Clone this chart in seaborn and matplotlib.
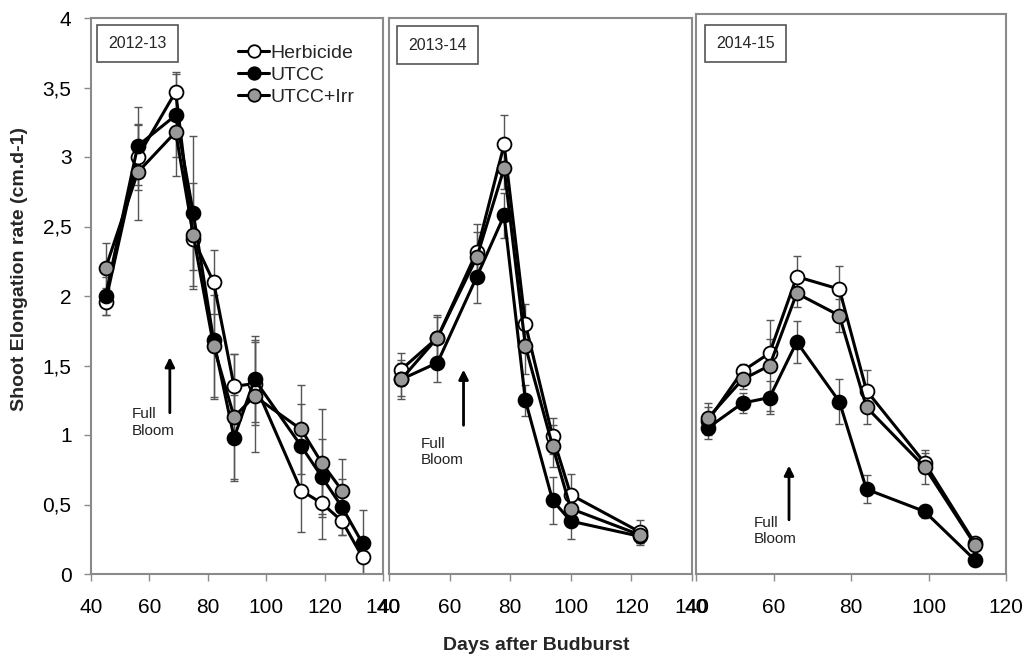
import numpy as np
import matplotlib
matplotlib.use("Agg")
import matplotlib.pyplot as plt
import seaborn as sns

nan = np.nan

# ---------------- data ----------------
seasons = ["2012-13", "2013-14", "2014-15"]
series_names = ["Herbicide", "UTCC", "UTCC+Irr"]

days_1 = [45, 56, 69, 75, 82, 89, 96, 112, 119, 126, 133]
herb_1 = [1.96, 3.00, 3.47, 2.41, 2.10, 1.35, 1.37, 0.60, 0.51, 0.38, 0.12]
utcc_1 = [2.00, 3.08, 3.30, 2.60, 1.68, 0.98, 1.40, 0.92, 0.70, 0.48, 0.22]
irr_1 = [2.20, 2.89, 3.18, 2.44, 1.64, 1.13, 1.28, 1.04, 0.80, 0.60, nan]
herb_1_err = [0.10, 0.24, 0.14, 0.22, 0.23, 0.23, 0.30, 0.30, 0.26, 0.10, 0.12]
utcc_1_err = [0.14, 0.28, 0.30, 0.55, 0.42, 0.31, 0.31, 0.30, 0.27, 0.20, 0.24]
irr_1_err = [0.18, 0.34, 0.32, 0.37, 0.37, 0.45, 0.40, 0.32, 0.39, 0.23, nan]

days_2 = [44, 56, 69, 78, 85, 94, 100, 123]
herb_2 = [1.47, 1.70, 2.32, 3.09, 1.80, 0.99, 0.57, 0.30]
utcc_2 = [1.40, 1.52, 2.14, 2.58, 1.25, 0.53, 0.38, 0.27]
irr_2 = [1.40, 1.70, 2.28, 2.92, 1.64, 0.92, 0.47, 0.28]
herb_2_err = [0.12, 0.16, 0.20, 0.21, 0.14, 0.13, 0.15, 0.09]
utcc_2_err = [0.14, 0.14, 0.19, 0.16, 0.11, 0.17, 0.13, 0.05]
irr_2_err = [0.12, 0.15, 0.18, 0.15, 0.20, 0.15, 0.12, 0.06]

days_3 = [43, 52, 59, 66, 77, 84, 99, 112]
herb_3 = [1.10, 1.46, 1.59, 2.14, 2.05, 1.32, 0.80, 0.22]
utcc_3 = [1.05, 1.23, 1.27, 1.67, 1.24, 0.61, 0.45, 0.10]
irr_3 = [1.12, 1.40, 1.50, 2.02, 1.86, 1.20, 0.77, 0.21]
herb_3_err = [0.10, 0.05, 0.10, 0.15, 0.17, 0.15, 0.07, 0.03]
utcc_3_err = [0.08, 0.07, 0.12, 0.15, 0.16, 0.10, 0.05, 0.02]
irr_3_err = [0.11, 0.07, 0.33, 0.10, 0.12, 0.12, 0.12, 0.03]

# full bloom marks (day, arrow bottom, arrow top, text day, text y)
bloom_day = [67.0, 64.6, 64.0]
bloom_arrow_lo = [1.16, 1.07, 0.39]
bloom_arrow_hi = [1.56, 1.47, 0.78]
bloom_text_x = [53.9, 50.6, 54.8]
bloom_text_y = [1.09, 0.88, 0.31]

x_ranges = [(40, 140), (40, 140), (40, 120)]
y_ticks = [0, 0.5, 1, 1.5, 2, 2.5, 3, 3.5, 4]
y_tick_labels = ["0", "0,5", "1", "1,5", "2", "2,5", "3", "3,5", "4"]

panels = [
    (days_1, [herb_1, utcc_1, irr_1], [herb_1_err, utcc_1_err, irr_1_err]),
    (days_2, [herb_2, utcc_2, irr_2], [herb_2_err, utcc_2_err, irr_2_err]),
    (days_3, [herb_3, utcc_3, irr_3], [herb_3_err, utcc_3_err, irr_3_err]),
]

# ---------------- style ----------------
sns.set_theme(style="ticks")
plt.rcParams["font.family"] = ["Liberation Sans", "DejaVu Sans"]

face_colors = ["white", "black", "#999999"]
spine_color = "#8a8a8a"

W, H = 1025, 657
fig = plt.figure(figsize=(W / 100, H / 100), dpi=100)

# axes rectangles in pixels: left, right, top(px for ymax), ymax
rects = [(91, 383, 18, 4.0), (389, 692, 18, 4.0), (696, 1006, 14, 4.03)]
y0_px = 574

axes = []
for i, (lpx, rpx, tpx, ymax) in enumerate(rects):
    ax = fig.add_axes([lpx / W, 1 - y0_px / H, (rpx - lpx) / W, (y0_px - tpx) / H])
    axes.append(ax)
    days, vals, errs = panels[i]
    for k in range(3):
        ax.errorbar(days, vals[k], yerr=errs[k], fmt="none", ecolor="#555555",
                    elinewidth=1.0, capsize=3, capthick=1.0, zorder=1)
    for k in range(3):
        sns.lineplot(x=days, y=vals[k], ax=ax, color="black", linewidth=2.2,
                     marker="o", markersize=10, markerfacecolor=face_colors[k],
                     markeredgecolor="black", markeredgewidth=1.3,
                     label=series_names[k], legend=False, zorder=3 + k)
    ax.set_xlim(*x_ranges[i])
    ax.set_ylim(0, ymax)
    ax.set_xticks(np.arange(x_ranges[i][0], x_ranges[i][1] + 1, 20))
    ax.tick_params(axis="x", direction="out", length=5, width=1, color=spine_color,
                   labelsize=15, pad=12, labelcolor="black")
    if i == 0:
        ax.set_yticks(y_ticks)
        ax.set_yticklabels(y_tick_labels)
        ax.tick_params(axis="y", direction="out", length=5, width=1, color=spine_color,
                       labelsize=15, pad=9, labelcolor="black")
    else:
        ax.set_yticks([])
    for s in ax.spines.values():
        s.set_visible(True)
        s.set_color(spine_color)
        s.set_linewidth(1.5)
    ax.set_xlabel("")
    ax.set_ylabel("")

    # season label box
    ax.text(0.16, 1 - (43.5 - tpx + (0 if i != 1 else 1.5)) / (y0_px - tpx), seasons[i],
            transform=ax.transAxes, ha="center", va="center", fontsize=11.5,
            bbox=dict(boxstyle="square,pad=0.7", facecolor="white",
                      edgecolor="#555555", linewidth=1.2))

    # full bloom arrow + text
    ax.annotate("", xy=(bloom_day[i], bloom_arrow_hi[i]),
                xytext=(bloom_day[i], bloom_arrow_lo[i]),
                arrowprops=dict(arrowstyle="-|>", color="black", lw=2,
                                mutation_scale=14, shrinkA=0, shrinkB=0))
    ax.text(bloom_text_x[i], bloom_text_y[i], "Full\nBloom", ha="left", va="center",
            fontsize=11, color="#222222", linespacing=1.2)

# legend in the first panel
handles, labels = axes[0].get_legend_handles_labels()
axes[0].legend(handles[:3], labels[:3], loc="upper left",
               bbox_to_anchor=(0.505, 0.952), frameon=False, fontsize=14,
               handlelength=1.55, handletextpad=0.1, labelspacing=0.22,
               borderpad=0, borderaxespad=0, markerscale=0.9)

fig.text(20 / W, 1 - 269 / H, "Shoot Elongation rate (cm.d-1)", rotation=90,
         ha="center", va="center", fontsize=14, fontweight="bold")
fig.text(536 / W, 1 - 645 / H, "Days after Budburst", ha="center", va="center",
         fontsize=14, fontweight="bold")

fig.savefig("out.png", dpi=100, facecolor="white")
